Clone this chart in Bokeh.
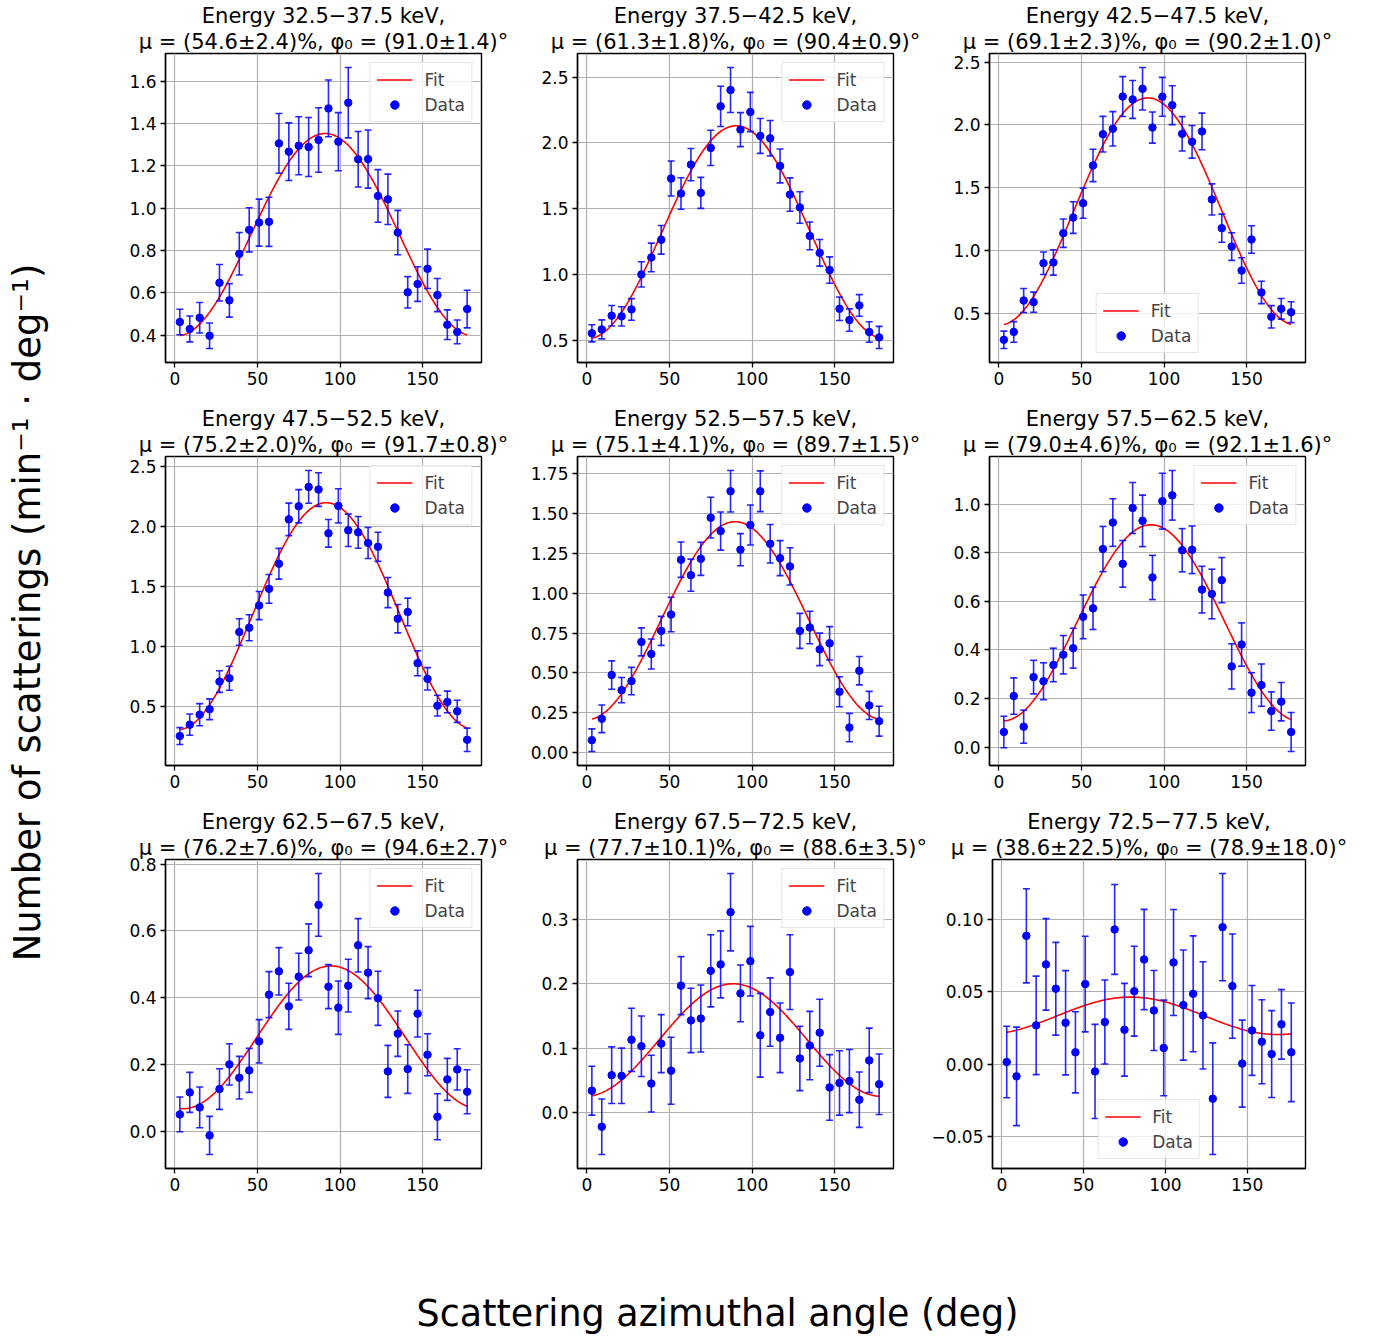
import numpy as np
from bokeh.plotting import figure
from bokeh.layouts import row, column
from bokeh.models import (ColumnDataSource, Range1d, FixedTicker, CustomJSTickFormatter,
                          Title, Legend, LegendItem)
from bokeh.embed import file_html
from bokeh.resources import INLINE

FONT = "DejaVu Sans"

# ---------------- data ----------------
angle_bins = [3, 9, 15, 21, 27, 33, 39, 45, 51, 57, 63, 69, 75, 81, 87,
              93, 99, 105, 111, 117, 123, 129, 135, 141, 147, 153, 159, 165, 171, 177]

energy_lo = [32.5, 37.5, 42.5, 47.5, 52.5, 57.5, 62.5, 67.5, 72.5]
energy_hi = [37.5, 42.5, 47.5, 52.5, 57.5, 62.5, 67.5, 72.5, 77.5]
mu_pct = [54.6, 61.3, 69.1, 75.2, 75.1, 79.0, 76.2, 77.7, 38.6]
mu_err = [2.4, 1.8, 2.3, 2.0, 4.1, 4.6, 7.6, 10.1, 22.5]
phi0_deg = [91.0, 90.4, 90.2, 91.7, 89.7, 92.1, 94.6, 88.6, 78.9]
phi0_err = [1.4, 0.9, 1.0, 0.8, 1.5, 1.6, 2.7, 3.5, 18.0]
fit_mean = [0.875, 1.32, 1.31, 1.255, 0.828, 0.511, 0.281, 0.1125, 0.0335]

rate_1 = [0.463, 0.430, 0.483, 0.398, 0.648, 0.565, 0.785, 0.898, 0.932, 0.936,
          1.306, 1.267, 1.295, 1.289, 1.322, 1.471, 1.314, 1.498, 1.231, 1.232,
          1.058, 1.042, 0.885, 0.603, 0.642, 0.714, 0.590, 0.450, 0.416, 0.524]
err_1 = [0.060, 0.061, 0.072, 0.060, 0.086, 0.079, 0.100, 0.104, 0.111, 0.116,
         0.141, 0.136, 0.137, 0.139, 0.152, 0.134, 0.137, 0.166, 0.131, 0.137,
         0.124, 0.119, 0.105, 0.074, 0.082, 0.093, 0.078, 0.070, 0.056, 0.089]

rate_2 = [0.551, 0.581, 0.685, 0.680, 0.733, 0.999, 1.128, 1.262, 1.728, 1.614,
          1.834, 1.619, 1.961, 2.277, 2.401, 2.100, 2.234, 2.052, 2.034, 1.824,
          1.606, 1.508, 1.292, 1.163, 1.032, 0.738, 0.652, 0.763, 0.561, 0.520]
err_2 = [0.065, 0.072, 0.078, 0.073, 0.082, 0.096, 0.109, 0.109, 0.133, 0.120,
         0.123, 0.118, 0.134, 0.153, 0.171, 0.129, 0.149, 0.133, 0.135, 0.129,
         0.127, 0.120, 0.105, 0.101, 0.100, 0.089, 0.085, 0.082, 0.078, 0.084]

rate_3 = [0.288, 0.351, 0.601, 0.588, 0.898, 0.904, 1.137, 1.262, 1.376, 1.677,
          1.926, 1.969, 2.226, 2.203, 2.288, 1.979, 2.224, 2.157, 1.929, 1.865,
          1.948, 1.406, 1.177, 1.031, 0.840, 1.087, 0.665, 0.471, 0.535, 0.508]
err_3 = [0.069, 0.082, 0.096, 0.080, 0.090, 0.101, 0.113, 0.126, 0.120, 0.129,
         0.142, 0.137, 0.159, 0.151, 0.169, 0.124, 0.155, 0.155, 0.137, 0.130,
         0.146, 0.124, 0.112, 0.110, 0.102, 0.109, 0.089, 0.089, 0.082, 0.083]

rate_4 = [0.258, 0.353, 0.436, 0.481, 0.711, 0.739, 1.123, 1.159, 1.343, 1.482,
          1.691, 2.060, 2.169, 2.330, 2.308, 1.944, 2.172, 1.969, 1.952, 1.863,
          1.832, 1.451, 1.234, 1.290, 0.864, 0.734, 0.511, 0.542, 0.464, 0.227]
err_4 = [0.070, 0.088, 0.092, 0.086, 0.090, 0.100, 0.110, 0.108, 0.117, 0.120,
         0.128, 0.135, 0.138, 0.136, 0.140, 0.115, 0.142, 0.135, 0.132, 0.129,
         0.121, 0.125, 0.118, 0.115, 0.104, 0.093, 0.086, 0.090, 0.092, 0.097]

rate_5 = [0.078, 0.212, 0.487, 0.392, 0.449, 0.695, 0.619, 0.764, 0.867, 1.211,
          1.114, 1.217, 1.475, 1.391, 1.641, 1.274, 1.429, 1.641, 1.311, 1.221,
          1.169, 0.764, 0.785, 0.648, 0.686, 0.382, 0.157, 0.514, 0.296, 0.197]
err_5 = [0.071, 0.087, 0.089, 0.079, 0.086, 0.088, 0.094, 0.091, 0.108, 0.111,
         0.101, 0.104, 0.128, 0.120, 0.130, 0.101, 0.126, 0.128, 0.121, 0.110,
         0.117, 0.110, 0.102, 0.102, 0.105, 0.094, 0.089, 0.089, 0.088, 0.094]

rate_6 = [0.062, 0.210, 0.084, 0.288, 0.271, 0.338, 0.380, 0.407, 0.536, 0.571,
          0.815, 0.924, 0.754, 0.984, 0.931, 0.698, 1.012, 1.036, 0.810, 0.812,
          0.648, 0.630, 0.687, 0.332, 0.422, 0.224, 0.255, 0.148, 0.187, 0.062]
err_6 = [0.065, 0.075, 0.068, 0.069, 0.076, 0.069, 0.079, 0.082, 0.090, 0.087,
         0.093, 0.098, 0.096, 0.105, 0.106, 0.091, 0.115, 0.102, 0.089, 0.098,
         0.096, 0.102, 0.093, 0.093, 0.089, 0.082, 0.087, 0.079, 0.079, 0.080]

rate_7 = [0.050, 0.116, 0.071, -0.013, 0.126, 0.200, 0.160, 0.182, 0.269, 0.409,
          0.479, 0.374, 0.463, 0.542, 0.678, 0.433, 0.370, 0.436, 0.557, 0.475,
          0.398, 0.179, 0.292, 0.186, 0.352, 0.229, 0.043, 0.155, 0.185, 0.118]
err_7 = [0.052, 0.060, 0.061, 0.057, 0.061, 0.062, 0.064, 0.066, 0.065, 0.069,
         0.071, 0.069, 0.070, 0.079, 0.094, 0.066, 0.080, 0.079, 0.080, 0.078,
         0.081, 0.078, 0.068, 0.073, 0.070, 0.063, 0.069, 0.063, 0.062, 0.066]

rate_8 = [0.034, -0.022, 0.058, 0.057, 0.113, 0.103, 0.045, 0.107, 0.065, 0.197,
          0.143, 0.146, 0.220, 0.230, 0.311, 0.185, 0.235, 0.120, 0.156, 0.116,
          0.218, 0.084, 0.104, 0.124, 0.039, 0.046, 0.049, 0.020, 0.081, 0.044]
err_8 = [0.038, 0.043, 0.044, 0.043, 0.049, 0.047, 0.044, 0.045, 0.052, 0.045,
         0.050, 0.052, 0.056, 0.052, 0.060, 0.044, 0.054, 0.065, 0.053, 0.054,
         0.058, 0.050, 0.053, 0.052, 0.051, 0.050, 0.049, 0.043, 0.050, 0.047]

rate_9 = [0.0016, -0.0083, 0.0887, 0.0269, 0.0690, 0.0522, 0.0287, 0.0083, 0.0554, -0.0049,
          0.0292, 0.0931, 0.0239, 0.0505, 0.0724, 0.0372, 0.0113, 0.0703, 0.0409, 0.0487,
          0.0338, -0.0237, 0.0947, 0.0540, 0.0005, 0.0234, 0.0156, 0.0071, 0.0276, 0.0083]
err_9 = [0.0247, 0.0340, 0.0325, 0.0340, 0.0316, 0.0320, 0.0360, 0.0280, 0.0330, 0.0325,
         0.0290, 0.0310, 0.0320, 0.0310, 0.0346, 0.0276, 0.0330, 0.0366, 0.0380, 0.0400,
         0.0370, 0.0385, 0.0370, 0.0360, 0.0300, 0.0310, 0.0290, 0.0300, 0.0240, 0.0340]

rates = [rate_1, rate_2, rate_3, rate_4, rate_5, rate_6, rate_7, rate_8, rate_9]
errors = [err_1, err_2, err_3, err_4, err_5, err_6, err_7, err_8, err_9]

x_ticks = [0, 50, 100, 150]
y_ticks = [
    [0.4, 0.6, 0.8, 1.0, 1.2, 1.4, 1.6],
    [0.5, 1.0, 1.5, 2.0, 2.5],
    [0.5, 1.0, 1.5, 2.0, 2.5],
    [0.5, 1.0, 1.5, 2.0, 2.5],
    [0.0, 0.25, 0.5, 0.75, 1.0, 1.25, 1.5, 1.75],
    [0.0, 0.2, 0.4, 0.6, 0.8, 1.0],
    [0.0, 0.2, 0.4, 0.6, 0.8],
    [0.0, 0.1, 0.2, 0.3],
    [-0.05, 0.0, 0.05, 0.10],
]
y_tick_decimals = [1, 1, 1, 1, 2, 1, 1, 1, 2]
legend_loc = ["top_right", "top_right", "bottom_center",
              "top_right", "top_right", "top_right",
              "top_right", "top_right", "bottom_center"]

x_label_text = "Scattering azimuthal angle (deg)"
y_label_text = "Number of scatterings (min\u207b\u00b9 \u00b7 deg\u207b\u00b9)"

# ---------------- layout constants ----------------
YLAB_W = 80
COL_BORDERS = [(85, 34), (62, 35), (61, 45)]
FRAME_W = 316
FRAME_H = 309
B_TOP = 53
B_BOT = 41
ROW_H = B_TOP + FRAME_H + B_BOT
X_LO, X_HI = -5.7, 185.7
BLUE = "#0000ff"


def make_panel(i):
    y = np.array(rates[i])
    e = np.array(errors[i])
    lo = float(np.min(y - e))
    hi = float(np.max(y + e))
    pad = 0.05 * (hi - lo)
    bl, br = COL_BORDERS[i % 3]
    p = figure(width=bl + FRAME_W + br, height=ROW_H, title=None,
               x_range=Range1d(X_LO, X_HI), y_range=Range1d(lo - pad, hi + pad),
               output_backend="svg", toolbar_location=None,
               min_border_left=bl, min_border_right=br,
               min_border_top=B_TOP, min_border_bottom=B_BOT)
    p.background_fill_color = "white"
    p.border_fill_color = "white"
    p.outline_line_color = "black"
    p.outline_line_width = 1.4
    p.outline_line_alpha = 1.0

    p.xaxis.ticker = FixedTicker(ticks=x_ticks)
    p.yaxis.ticker = FixedTicker(ticks=y_ticks[i])
    d = y_tick_decimals[i]
    p.yaxis.formatter = CustomJSTickFormatter(
        code="return tick.toFixed(%d).replace('-', '\u2212');" % d)
    for ax in p.axis:
        ax.major_label_text_font = FONT
        ax.major_label_text_font_size = "17px"
        ax.major_label_text_color = "black"
        ax.major_tick_out = 5
        ax.major_tick_in = 0
        ax.minor_tick_out = 0
        ax.minor_tick_in = 0
        ax.major_tick_line_width = 1.3
        ax.major_tick_line_color = "black"
        ax.axis_line_color = "black"
        ax.axis_line_width = 1.4
        ax.major_label_standoff = 4
    p.grid.grid_line_color = "#b0b0b0"
    p.grid.grid_line_width = 1.2

    # fit curve (model with the fitted parameters shown in the title)
    theta = np.linspace(angle_bins[0], angle_bins[-1], 300)
    fit_y = fit_mean[i] * (1 + mu_pct[i] / 100.0 * np.cos(2 * np.radians(theta - phi0_deg[i])))
    fit_r = p.line(theta, fit_y, line_color="#ff0000", line_width=1.6)

    src = ColumnDataSource(dict(x=angle_bins, y=y, top=y + e, bottom=y - e))
    p.segment(x0="x", y0="bottom", x1="x", y1="top", source=src,
              line_color=BLUE, line_width=1.6, line_alpha=0.85)
    p.scatter(x="x", y="top", source=src, marker="dash", size=7,
              line_color=BLUE, line_width=1.6, line_alpha=0.85)
    p.scatter(x="x", y="bottom", source=src, marker="dash", size=7,
              line_color=BLUE, line_width=1.6, line_alpha=0.85)
    dots = p.scatter(x="x", y="y", source=src, marker="circle", size=7.5,
                     fill_color=BLUE, line_color=BLUE)

    legend = Legend(items=[LegendItem(label="Fit", renderers=[fit_r]),
                           LegendItem(label="Data", renderers=[dots])],
                    location=legend_loc[i])
    legend.label_text_font = FONT
    legend.label_text_font_size = "17px"
    legend.glyph_width = 36
    legend.glyph_height = 21
    legend.label_height = 21
    legend.label_standoff = 12
    legend.padding = 6
    legend.spacing = 4
    legend.margin = 9
    legend.border_line_color = "#cccccc"
    legend.border_line_width = 1
    legend.background_fill_alpha = 0.8
    p.add_layout(legend)

    # two-line title (first added sits closest to the frame)
    line1 = "Energy %.1f\u2212%.1f keV," % (energy_lo[i], energy_hi[i])
    line2 = "\u03bc = (%.1f\u00b1%.1f)%%, \u03c6\u2080 = (%.1f\u00b1%.1f)\u00b0" % (
        mu_pct[i], mu_err[i], phi0_deg[i], phi0_err[i])
    for txt in (line2, line1):
        p.add_layout(Title(text=txt, align="center", standoff=0,
                           text_font=FONT, text_font_size="21px",
                           text_font_style="normal", text_color="black"), "above")
    return p


panels = [make_panel(i) for i in range(9)]
grid = column(row(*panels[0:3]), row(*panels[3:6]), row(*panels[6:9]))

GRID_H = 3 * ROW_H
TOTAL_W = YLAB_W + sum(bl + FRAME_W + br for bl, br in COL_BORDERS)

# y label strip
ylab = figure(width=YLAB_W, height=GRID_H, title=None,
              min_border_left=48, min_border_right=0, min_border_top=15, min_border_bottom=0,
              x_axis_location=None, y_axis_location=None,
              output_backend="svg", toolbar_location=None)
ylab.outline_line_color = None
ylab.grid.visible = False
ylab.add_layout(Title(text=y_label_text, align="center", standoff=0,
                      text_font=FONT, text_font_size="37px",
                      text_font_style="normal", text_color="black"), "left")

# x label strip
XLAB_H = 132
XLAB_CENTER = 717
xlab = figure(width=TOTAL_W, height=XLAB_H, title=None,
              min_border_left=100, min_border_right=TOTAL_W - (2 * XLAB_CENTER - 100),
              min_border_top=125, min_border_bottom=0,
              x_axis_location=None, y_axis_location=None,
              output_backend="svg", toolbar_location=None)
xlab.outline_line_color = None
xlab.grid.visible = False
xlab.add_layout(Title(text=x_label_text, align="center", standoff=0,
                      text_font=FONT, text_font_size="36.5px",
                      text_font_style="normal", text_color="black"), "above")

layout = column(row(ylab, grid), xlab)
open("out.html", "w").write(file_html(layout, INLINE, title="Modulation curves"))
